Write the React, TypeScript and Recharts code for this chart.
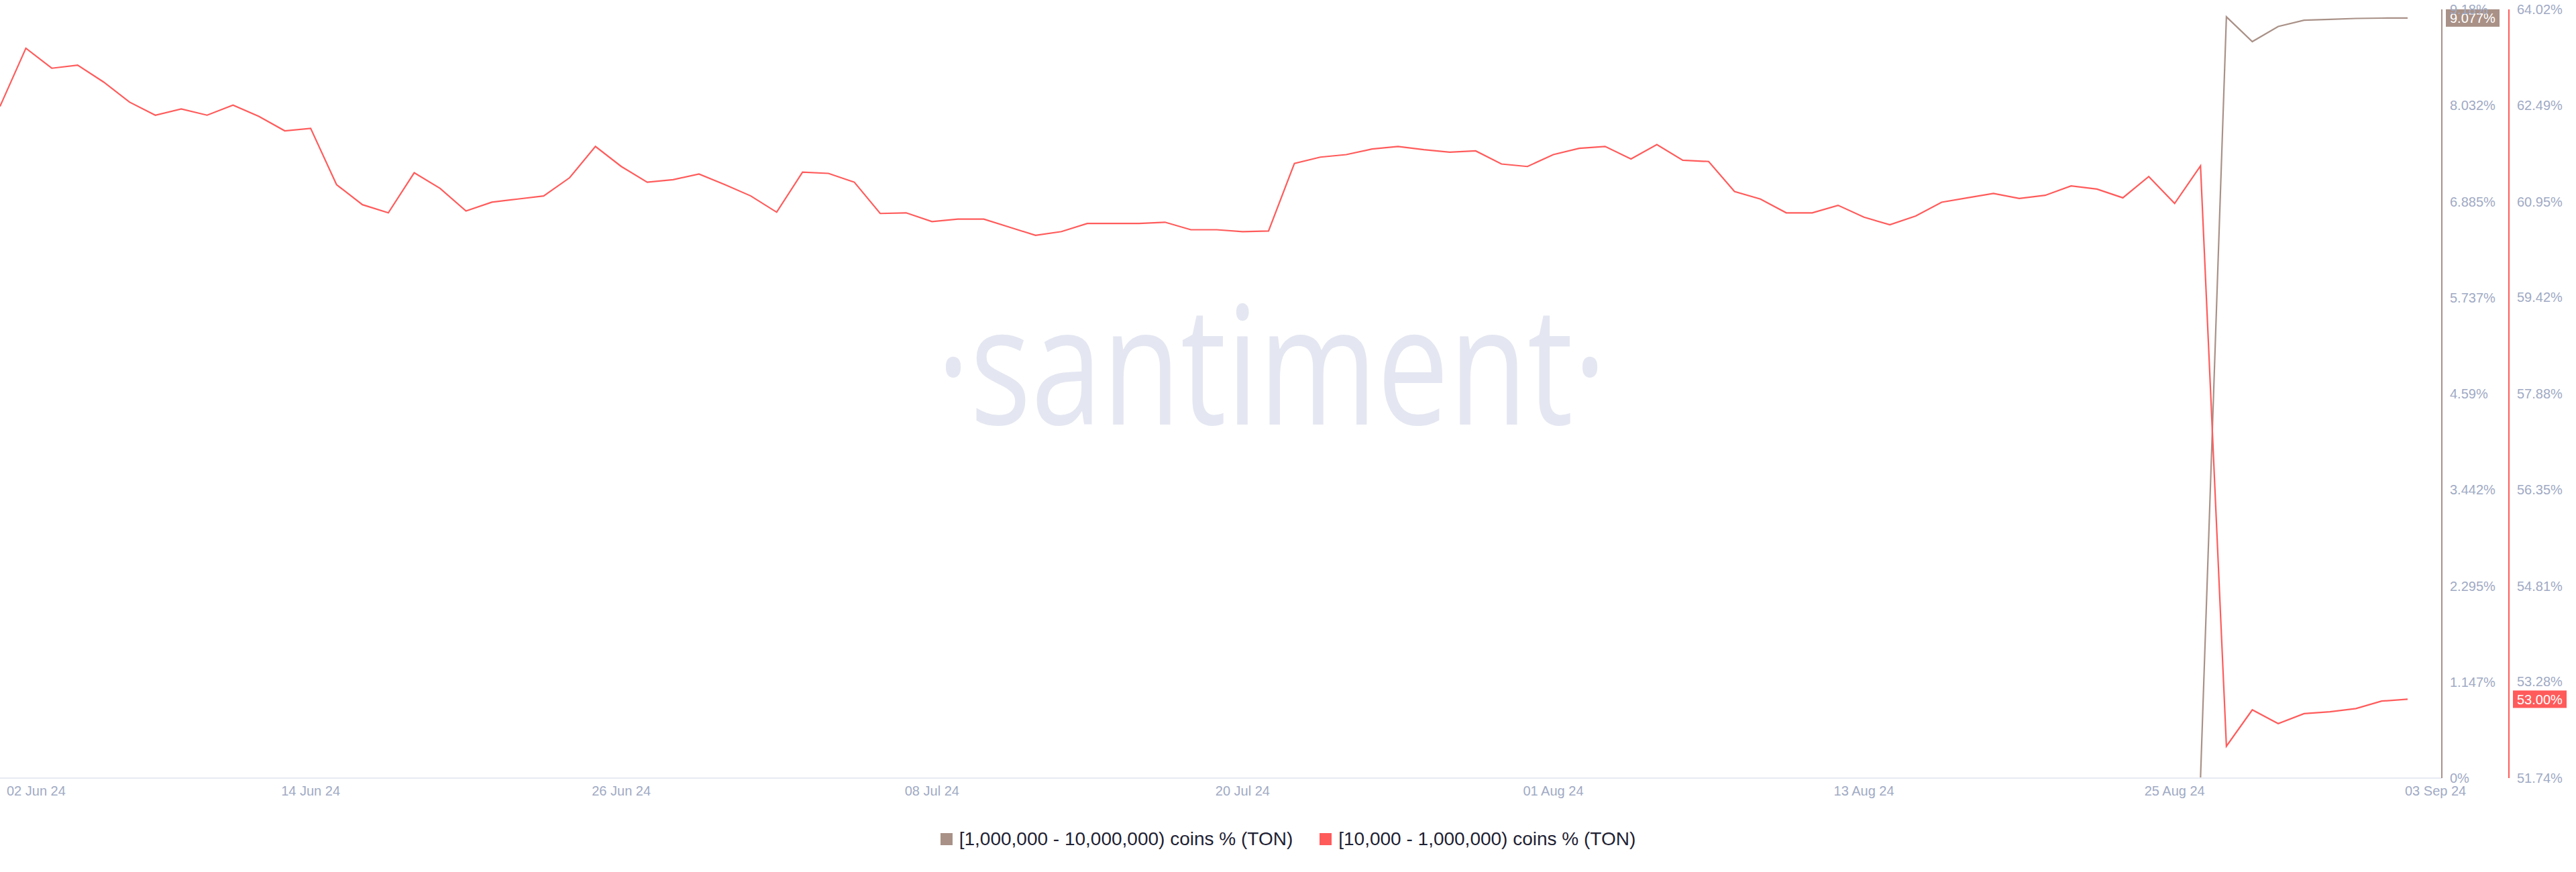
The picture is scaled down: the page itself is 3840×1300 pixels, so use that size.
import React from 'react';
import { LineChart, Line, XAxis, YAxis, ReferenceLine, Legend } from 'recharts';

// ---- categories (daily, 02 Jun 24 .. 03 Sep 24) ----
const MONTHS = ['Jan', 'Feb', 'Mar', 'Apr', 'May', 'Jun', 'Jul', 'Aug', 'Sep', 'Oct', 'Nov', 'Dec'];
const START = Date.UTC(2024, 5, 2);
const DAY_COUNT = 94;
const dates: string[] = Array.from({ length: DAY_COUNT }, (_, i) => {
  const d = new Date(START + i * 86400000);
  return `${String(d.getUTCDate()).padStart(2, '0')} ${MONTHS[d.getUTCMonth()]} ${String(d.getUTCFullYear()).slice(2)}`;
});

// ---- series: [1,000,000 - 10,000,000) coins % (TON) ----
const bigHolders: number[] = [
  0, 0, 0, 0, 0, 0, 0, 0, 0, 0,
  0, 0, 0, 0, 0, 0, 0, 0, 0, 0,
  0, 0, 0, 0, 0, 0, 0, 0, 0, 0,
  0, 0, 0, 0, 0, 0, 0, 0, 0, 0,
  0, 0, 0, 0, 0, 0, 0, 0, 0, 0,
  0, 0, 0, 0, 0, 0, 0, 0, 0, 0,
  0, 0, 0, 0, 0, 0, 0, 0, 0, 0,
  0, 0, 0, 0, 0, 0, 0, 0, 0, 0,
  0, 0, 0, 0, 0, 0, 9.091, 8.795, 8.976, 9.051,
  9.061, 9.072, 9.076, 9.077,
];

// ---- series: [10,000 - 1,000,000) coins % (TON) ----
const midHolders: number[] = [
  62.47, 63.40, 63.08, 63.13, 62.86, 62.54, 62.33, 62.43, 62.33, 62.49,
  62.31, 62.08, 62.12, 61.22, 60.90, 60.77, 61.41, 61.16, 60.80, 60.94,
  60.99, 61.04, 61.33, 61.83, 61.51, 61.26, 61.30, 61.39, 61.22, 61.04,
  60.78, 61.42, 61.40, 61.26, 60.76, 60.77, 60.63, 60.67, 60.67, 60.54,
  60.41, 60.47, 60.60, 60.60, 60.60, 60.62, 60.50, 60.50, 60.47, 60.48,
  61.56, 61.66, 61.70, 61.79, 61.83, 61.78, 61.74, 61.76, 61.55, 61.51,
  61.70, 61.80, 61.83, 61.63, 61.86, 61.61, 61.59, 61.11, 60.99, 60.77,
  60.77, 60.89, 60.70, 60.58, 60.72, 60.94, 61.01, 61.08, 61.00, 61.05,
  61.20, 61.15, 61.01, 61.35, 60.92, 61.52, 52.25, 52.83, 52.61, 52.77,
  52.80, 52.85, 52.97, 53.00,
];

// ---- tick labels ----
const xTicks: string[] = ['02 Jun 24', '14 Jun 24', '26 Jun 24', '08 Jul 24', '20 Jul 24', '01 Aug 24', '13 Aug 24', '25 Aug 24', '03 Sep 24'];
const bigTicks: number[] = [0, 1.147, 2.295, 3.442, 4.59, 5.737, 6.885, 8.032, 9.18];
const midTicks: number[] = [51.74, 53.28, 54.81, 56.35, 57.88, 59.42, 60.95, 62.49, 64.02];

const seriesNames = ['[1,000,000 - 10,000,000) coins % (TON)', '[10,000 - 1,000,000) coins % (TON)'];

const BROWN = '#a99187';
const RED = '#ff5b5b';
const TICK = '#9faac4';

const data = dates.map((date, i) => ({ date, big: bigHolders[i], mid: midHolders[i] }));

const XTick = (props: any) => {
  const { x, y, payload } = props;
  let anchor: 'start' | 'middle' = 'middle';
  let dx = 0;
  if (payload.value === xTicks[0]) {
    anchor = 'start';
    dx = 10;
  } else if (payload.value === xTicks[xTicks.length - 1]) {
    anchor = 'start';
    dx = -4;
  }
  return (
    <text x={x + dx} y={y} dy="0.71em" textAnchor={anchor} fill={TICK} fontSize={20}>
      {payload.value}
    </text>
  );
};

// badge drawn on the value axis at the series' last value; `shift` = distance from plot edge
const makeBadge = (text: string, fill: string, shift: number) => (props: any) => {
  const vb = props.viewBox || {};
  const bx = (vb.x || 0) + (vb.width || 0) + shift;
  const cy = vb.y || 0;
  return (
    <g>
      <rect x={bx} y={cy - 13} width={80} height={26} fill={fill} />
      <text x={bx + 6} y={cy} dy="0.355em" fill="#ffffff" fontSize={20}>
        {text}
      </text>
    </g>
  );
};

const LegendContent = () => (
  <div style={{ height: 60, display: 'flex', justifyContent: 'center', alignItems: 'center', gap: 40 }}>
    {seriesNames.map((name, i) => (
      <div key={name} style={{ display: 'flex', alignItems: 'center', gap: 10 }}>
        <span style={{ width: 18, height: 18, background: i === 0 ? BROWN : RED, display: 'inline-block' }} />
        <span style={{ fontSize: 28, color: '#1f2233', whiteSpace: 'nowrap' }}>{name}</span>
      </div>
    ))}
  </div>
);

export default function App() {
  const lastBig = bigHolders[bigHolders.length - 1];
  const lastMid = midHolders[midHolders.length - 1];
  return (
    <div
      style={{
        position: 'absolute',
        left: 0,
        top: 0,
        width: 3840,
        height: 1300,
        background: '#ffffff',
        fontFamily: "'Liberation Sans', Arial, Helvetica, sans-serif",
      }}
    >
      <svg width={3840} height={1300} style={{ position: 'absolute', left: 0, top: 0, pointerEvents: 'none' }}>
        <text
          x={1396}
          y={633}
          fontSize={245}
          fontFamily="'Open Sans', 'Noto Sans', sans-serif"
          textLength={999}
          lengthAdjust="spacingAndGlyphs"
          fill="#e4e7f1"
        >
          ·santiment·
        </text>
      </svg>
      <div style={{ position: 'absolute', left: 0, top: 0 }}>
        <LineChart width={3840} height={1300} data={data} margin={{ top: 14, right: 0, left: 0, bottom: 19 }}>
          <XAxis
            dataKey="date"
            ticks={xTicks}
            interval={0}
            height={61}
            padding={{ left: 0, right: 51 }}
            axisLine={{ stroke: '#e7eaf3', strokeWidth: 2 }}
            tickLine={false}
            tickMargin={6}
            tick={<XTick />}
          />
          <YAxis
            yAxisId="big"
            orientation="right"
            width={100}
            domain={[0, 9.18]}
            ticks={bigTicks}
            allowDataOverflow
            axisLine={{ stroke: BROWN, strokeWidth: 2 }}
            tickLine={false}
            tickMargin={6}
            tick={{ fill: TICK, fontSize: 20, textAnchor: 'start' }}
            tickFormatter={(v: number) => `${v}%`}
          />
          <YAxis
            yAxisId="mid"
            orientation="right"
            width={100}
            domain={[51.74, 64.02]}
            ticks={midTicks}
            allowDataOverflow
            axisLine={{ stroke: RED, strokeWidth: 2 }}
            tickLine={false}
            tickMargin={6}
            tick={{ fill: TICK, fontSize: 20, textAnchor: 'start' }}
            tickFormatter={(v: number) => `${v}%`}
          />
          <Legend verticalAlign="bottom" content={<LegendContent />} />
          <Line
            yAxisId="big"
            dataKey="big"
            name={seriesNames[0]}
            stroke={BROWN}
            strokeWidth={2.2}
            dot={false}
            activeDot={false}
            type="linear"
            isAnimationActive={false}
          />
          <Line
            yAxisId="mid"
            dataKey="mid"
            name={seriesNames[1]}
            stroke={RED}
            strokeWidth={2.2}
            dot={false}
            activeDot={false}
            type="linear"
            isAnimationActive={false}
          />
          <ReferenceLine
            yAxisId="big"
            y={lastBig}
            stroke="none"
            ifOverflow="visible"
            label={makeBadge(`${lastBig.toFixed(3)}%`, BROWN, 6)}
          />
          <ReferenceLine
            yAxisId="mid"
            y={lastMid}
            stroke="none"
            ifOverflow="visible"
            label={makeBadge(`${lastMid.toFixed(2)}%`, RED, 106)}
          />
        </LineChart>
      </div>
    </div>
  );
}
